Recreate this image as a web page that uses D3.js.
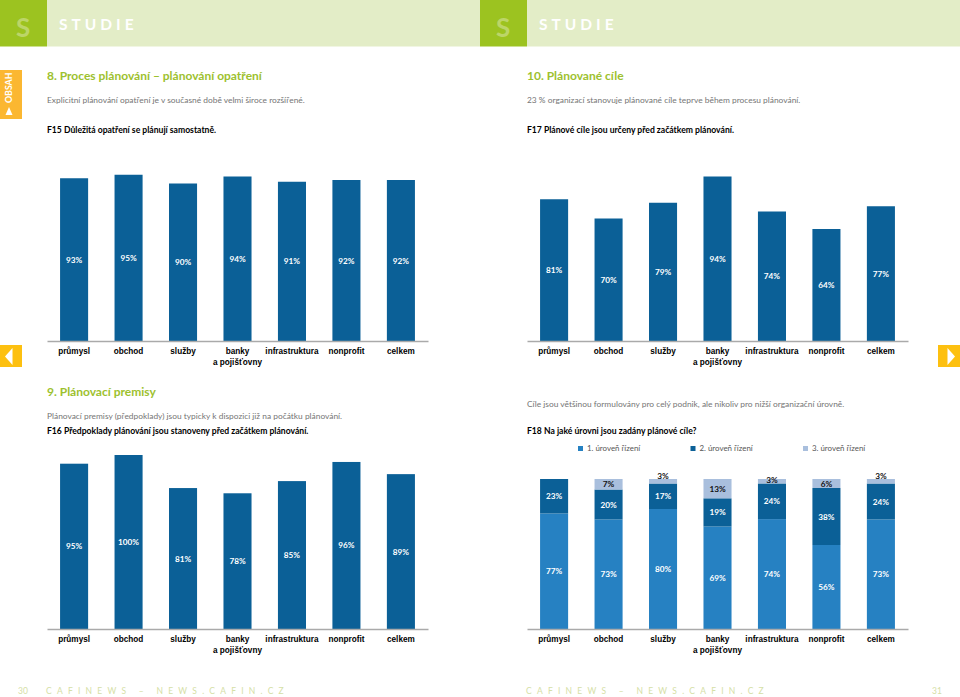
<!DOCTYPE html>
<html>
<head>
<meta charset="utf-8">
<style>
html, body { margin: 0; padding: 0; background: #fff; }
svg { display: block; font-family: "Lato", "Noto Sans", sans-serif; }
</style>
<script src="https://cdn.jsdelivr.net/npm/d3@7"></script>
</head>
<body>
<svg id="page" width="960" height="697"></svg>
<script>
const categories = ["průmysl", "obchod", "služby", "banky|a pojišťovny", "infrastruktura", "nonprofit", "celkem"];

const f15Values = [93, 95, 90, 94, 91, 92, 92];
const f16Values = [95, 100, 81, 78, 85, 96, 89];
const f17Values = [81, 70, 79, 94, 74, 64, 77];

const levelNames = ["1. úroveň řízení", "2. úroveň řízení", "3. úroveň řízení"];
const level1 = [77, 73, 80, 69, 74, 56, 73];
const level2 = [23, 20, 17, 19, 24, 38, 24];
const level3 = [0, 7, 3, 13, 3, 6, 3];

const levelColors = ["#2681c2", "#0b6097", "#a9bfdd"];
const barColor = "#0b6097";
const titleGreen = "#9dc12e";
const footGreen = "#d5e0a6";
const bodyGrey = "#757575";

const svg = d3.select("#page");

function text(x, y, str, opts = {}) {
    return svg.append("text")
        .attr("x", x).attr("y", y)
        .attr("font-size", opts.size || 9)
        .attr("font-weight", opts.weight || 400)
        .attr("fill", opts.fill || "#000")
        .attr("text-anchor", opts.anchor || "start")
        .attr("letter-spacing", opts.spacing || 0)
        .text(str);
}

function header(x0) {
    svg.append("rect").attr("x", x0).attr("y", 0).attr("width", 47).attr("height", 46.5).attr("fill", "#9cc320");
    svg.append("rect").attr("x", x0 + 47).attr("y", 0).attr("width", 433).attr("height", 46.5).attr("fill", "#e3edc7");
    text(x0 + 16, 37, "S", { size: 26, weight: 700, fill: "#bcd568" });
    text(x0 + 59, 30, "STUDIE", { size: 15.5, weight: 700, fill: "#fff", spacing: 4 });
}

function xAxis(g, x) {
    g.call(d3.axisBottom(x).tickSize(0).tickPadding(0).tickFormat(""));
    g.select(".domain").attr("stroke", "#aaa").attr("stroke-width", 1.4);
    g.selectAll(".tick").each(function (d) {
        const lines = d.split("|");
        const t = d3.select(this);
        t.select("text").remove();
        lines.forEach((line, i) => {
            t.append("text")
                .attr("y", 13 + i * 10.7)
                .attr("text-anchor", "middle")
                .attr("font-size", 8.2)
                .attr("font-weight", 700)
                .attr("fill", "#000")
                .text(line);
        });
    });
}

function bandScale(left) {
    return d3.scaleBand().domain(categories).range([left, left + 381]).paddingInner(0.485).paddingOuter(0.24);
}

function barChart(values, left, baseline, pxPerPercent) {
    const x = bandScale(left);
    const y = d3.scaleLinear().domain([0, 100]).range([baseline, baseline - 100 * pxPerPercent]);
    const g = svg.append("g");
    g.selectAll("rect").data(values).join("rect")
        .attr("x", (d, i) => x(categories[i]))
        .attr("y", d => y(d))
        .attr("width", x.bandwidth())
        .attr("height", d => baseline - y(d))
        .attr("fill", barColor);
    g.selectAll("text").data(values).join("text")
        .attr("x", (d, i) => x(categories[i]) + x.bandwidth() / 2)
        .attr("y", d => (y(d) + baseline) / 2 + 3)
        .attr("text-anchor", "middle")
        .attr("font-size", 8.2)
        .attr("font-weight", 700)
        .attr("fill", "#fff")
        .text(d => d + "%");
    svg.append("g").attr("transform", `translate(0,${baseline})`).call(xAxis, x);
}

function stackedChart(left, baseline, top) {
    const x = bandScale(left);
    const y = d3.scaleLinear().domain([0, 1]).range([baseline, top]);
    const rows = categories.map((c, i) => ({ c, a: level1[i], b: level2[i], d: level3[i] }));
    const series = d3.stack().keys(["a", "b", "d"]).offset(d3.stackOffsetExpand)(rows);
    // small top segments carry their label above the bar
    const topLabelShift = [0, 0, -5.5, 0, -1.5, 0, -5.5];
    series.forEach((s, k) => {
        const g = svg.append("g");
        g.selectAll("rect").data(s).join("rect")
            .attr("x", d => x(d.data.c))
            .attr("y", d => y(d[1]))
            .attr("width", x.bandwidth())
            .attr("height", d => y(d[0]) - y(d[1]))
            .attr("fill", levelColors[k]);
        g.selectAll("text").data(s.filter(d => d.data[s.key] > 0)).join("text")
            .attr("x", d => x(d.data.c) + x.bandwidth() / 2)
            .attr("y", d => {
                const shift = k === 2 ? topLabelShift[categories.indexOf(d.data.c)] : 0;
                return (y(d[0]) + y(d[1])) / 2 + 3 + shift;
            })
            .attr("text-anchor", "middle")
            .attr("font-size", 8.2)
            .attr("font-weight", 700)
            .attr("fill", k === 2 ? "#111" : "#fff")
            .text(d => d.data[s.key] + "%");
    });
    svg.append("g").attr("transform", `translate(0,${baseline})`).call(xAxis, x);
}

header(0);
header(480);

// side tabs
svg.append("rect").attr("x", 0).attr("y", 70).attr("width", 22).attr("height", 49).attr("fill", "#fbb731");
svg.append("text").attr("transform", "translate(12,103) rotate(-90)")
    .attr("font-size", 8.8).attr("font-weight", 700).attr("fill", "#fff").text("OBSAH");
svg.append("path").attr("d", d3.line()([[5.5, 115], [12.5, 115], [9, 107]])).attr("fill", "#fff");

svg.append("rect").attr("x", 0).attr("y", 345).attr("width", 22).attr("height", 22).attr("fill", "#fdc010");
svg.append("path").attr("d", d3.line()([[5, 356.5], [12.5, 348], [12.5, 365]])).attr("fill", "#fff");
svg.append("rect").attr("x", 938).attr("y", 345).attr("width", 22).attr("height", 22).attr("fill", "#fdc010");
svg.append("path").attr("d", d3.line()([[955, 356.5], [947.5, 348], [947.5, 365]])).attr("fill", "#fff");

// left page texts
text(47, 80, "8. Proces plánování – plánování opatření", { size: 12, weight: 700, fill: titleGreen });
text(47, 103, "Explicitní plánování opatření je v současné době velmi široce rozšířené.", { size: 8.4, fill: bodyGrey });
text(47, 133, "F15 Důležitá opatření se plánují samostatně.", { size: 8.6, weight: 700 });
text(47, 396, "9. Plánovací premisy", { size: 12, weight: 700, fill: titleGreen });
text(47, 419, "Plánovací premisy (předpoklady) jsou typicky k dispozici již na počátku plánování.", { size: 8.4, fill: bodyGrey });
text(47, 434, "F16 Předpoklady plánování jsou stanoveny před začátkem plánování.", { size: 8.6, weight: 700 });

// right page texts
text(527, 80, "10. Plánované cíle", { size: 12, weight: 700, fill: titleGreen });
text(527, 103, "23 % organizací stanovuje plánované cíle teprve během procesu plánování.", { size: 8.4, fill: bodyGrey });
text(527, 133, "F17 Plánové cíle jsou určeny před začátkem plánování.", { size: 8.6, weight: 700 });
text(527, 407, "Cíle jsou většinou formulovány pro celý podnik, ale nikoliv pro nižší organizační úrovně.", { size: 8.4, fill: bodyGrey });
text(527, 434, "F18 Na jaké úrovni jsou zadány plánové cíle?", { size: 8.6, weight: 700 });

// legend
const legendX = d3.scalePoint().domain(levelNames).range([578, 803]);
levelNames.forEach((name, i) => {
    svg.append("rect").attr("x", legendX(name)).attr("y", 446).attr("width", 5).attr("height", 5).attr("fill", levelColors[i]);
    text(legendX(name) + 9, 450.5, name, { size: 7.9, fill: "#555" });
});

barChart(f15Values, 47, 341, 1.75);
barChart(f17Values, 527, 341, 1.75);
barChart(f16Values, 47, 629, 1.74);
stackedChart(527, 629, 479);

// footer
text(18, 694, "30", { size: 8.5, fill: footGreen });
text(46, 694, "CAFINEWS – NEWS.CAFIN.CZ", { size: 8.5, fill: footGreen, spacing: 5.25 });
text(526, 694, "CAFINEWS – NEWS.CAFIN.CZ", { size: 8.5, fill: footGreen, spacing: 5.25 });
text(932, 694, "31", { size: 8.5, fill: footGreen });
</script>
</body>
</html>
